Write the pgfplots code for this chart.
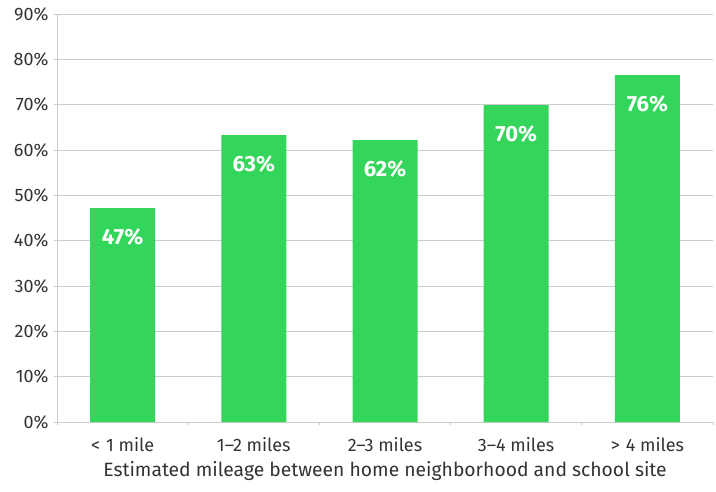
\documentclass[border=0pt]{standalone}
\usepackage{pgfplots}
\pgfplotsset{compat=1.18}
\usepackage{fontspec}
\setmainfont{Fira Sans}
\definecolor{bargreen}{HTML}{33D65A}
\definecolor{txt}{HTML}{333333}
\definecolor{gridc}{HTML}{CCCCCC}
\begin{document}
\begin{tikzpicture}
\useasboundingbox (-57pt,-69pt) rectangle (659pt,422pt);
\begin{axis}[
  at={(0,0)}, anchor=south west,
  scale only axis,
  width=656pt, height=408pt,
  xmin=-0.5, xmax=4.5, ymin=0, ymax=90,
  axis lines=left,
  axis line style={-, draw=gridc, line width=0.8pt},
  ytick={0,10,...,90},
  yticklabel={\pgfmathprintnumber[fixed,precision=0]{\tick}\%},
  /pgf/number format/assume math mode=true,
  ymajorgrids, grid style={draw=gridc, line width=0.8pt},
  y tick style={draw=gridc, line width=0.8pt},
  major tick length=3pt,
  tick align=outside,
  xtick={0,1,2,3,4},
  xticklabels={<\,\,1 mile, 1–2 miles, 2–3 miles, 3–4 miles, >\,\,4 miles},
  x tick style={draw=none},
  extra x ticks={-0.5,0.5,1.5,2.5,3.5,4.5},
  extra x tick labels={},
  extra x tick style={x tick style={draw=gridc, line width=0.8pt}, major tick length=3pt, grid=none},
  ticklabel style={font=\fontsize{18}{20}\selectfont, text=txt},
  yticklabel style={xshift=-2pt},
  xticklabel style={yshift=-9pt},
  xlabel={Estimated mileage between home neighborhood and school site},
  xlabel style={font=\fontsize{19.3}{21}\selectfont, text=txt, yshift=3pt},
  ybar, bar width=65pt,
  point meta=explicit symbolic,
  nodes near coords={\pgfplotspointmeta},
  every node near coord/.append style={anchor=north, yshift=-17pt, font=\bfseries\fontsize{22}{24}\selectfont, text=white},
]
\addplot[fill=bargreen, draw=none] coordinates {
  (0,47.2) [47\%]
  (1,63.3) [63\%]
  (2,62.2) [62\%]
  (3,69.9) [70\%]
  (4,76.5) [76\%]
};
\end{axis}
\end{tikzpicture}
\end{document}
